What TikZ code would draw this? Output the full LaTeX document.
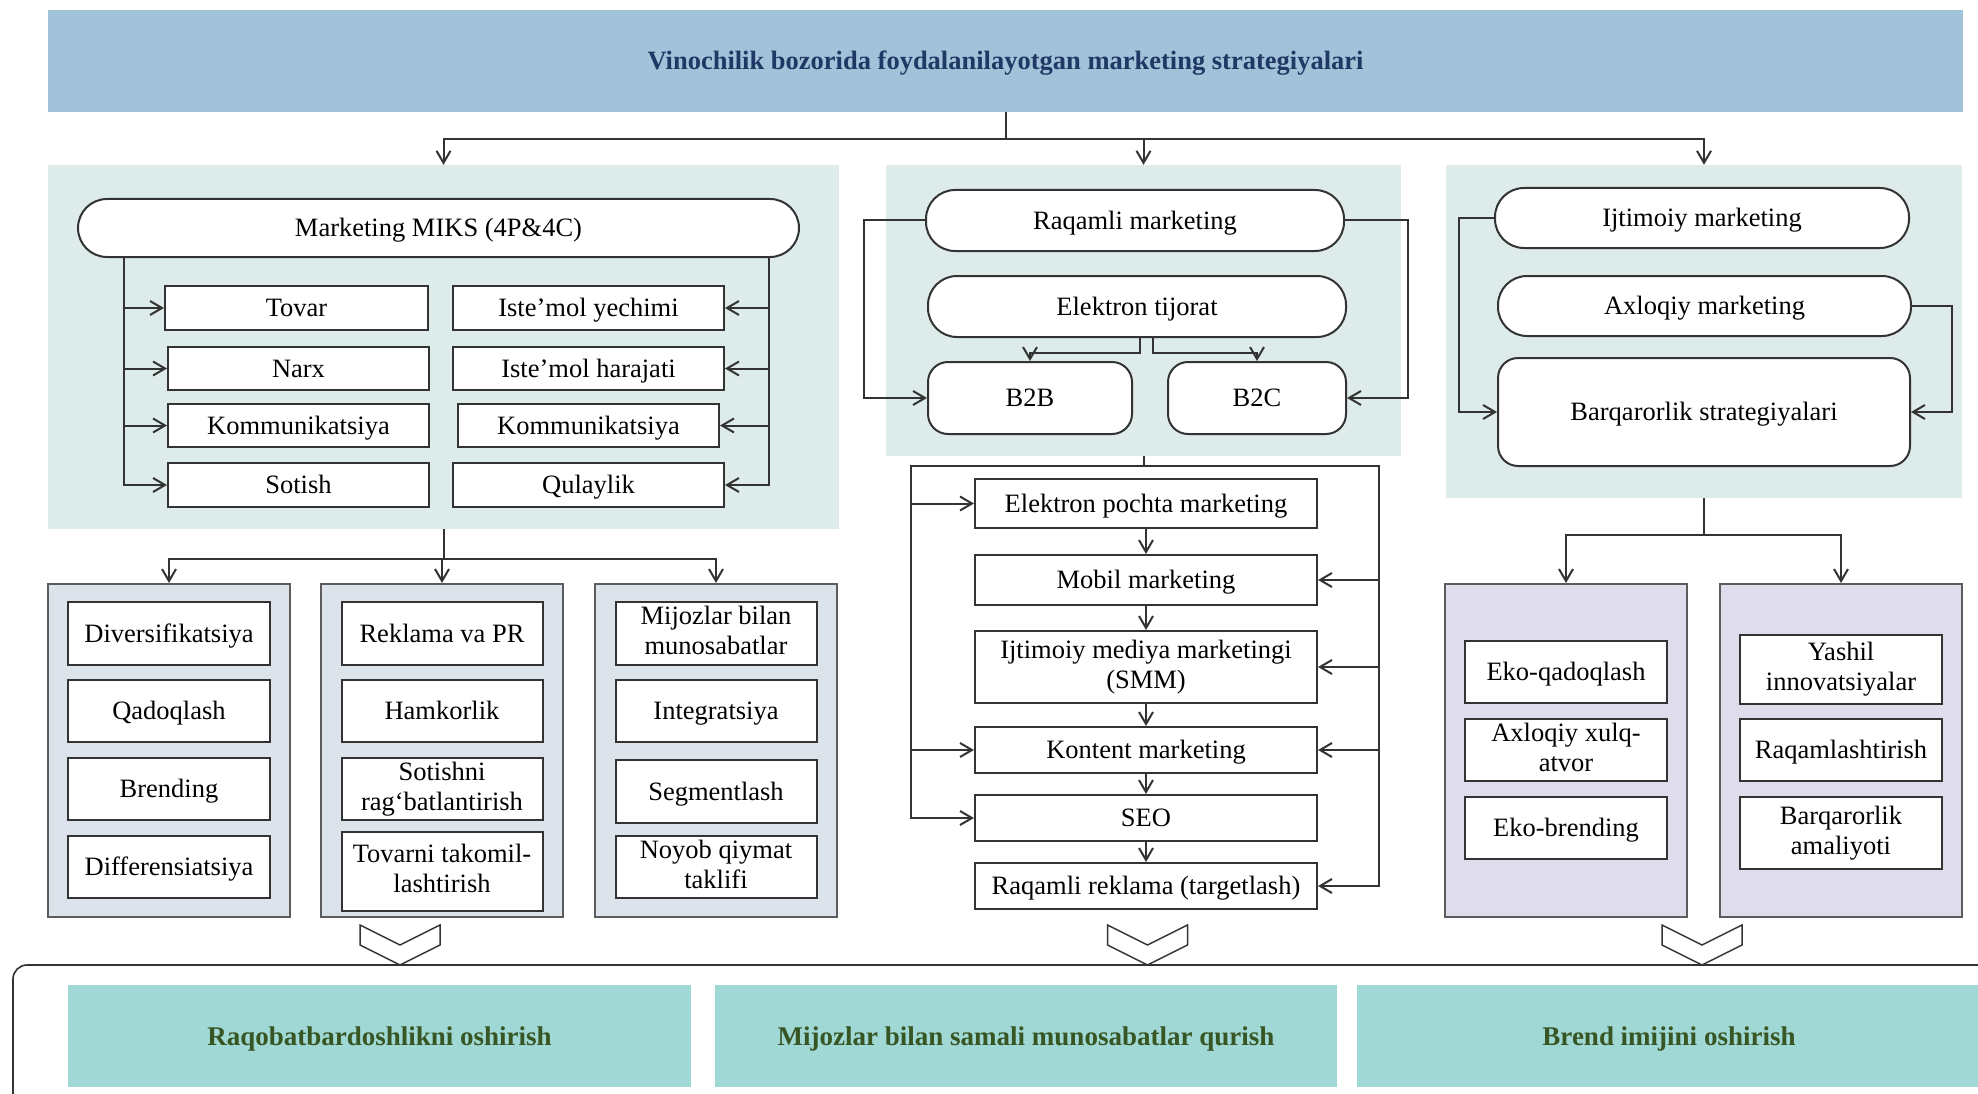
\documentclass[tikz,border=0pt]{standalone}
\usepackage{fontspec}
\setmainfont{Liberation Serif}
\usetikzlibrary{arrows.meta}

\definecolor{titlebg}{HTML}{A2C2DA}
\definecolor{titletext}{HTML}{1F3864}
\definecolor{panelbg}{HTML}{DDEBEA}
\definecolor{subbg}{HTML}{DDE3EA}
\definecolor{lilacbg}{HTML}{DFDDEC}
\definecolor{resultbg}{HTML}{9FD8D5}
\definecolor{resulttext}{HTML}{375623}
\definecolor{linegray}{HTML}{333333}

\newcommand{\wstrut}{\rule[-0.216em]{0pt}{1.107em}}

\tikzset{
    line/.style={draw=linegray, line width=2pt},
    arr/.style={line, -{Straight Barb[length=12pt,width=14pt]}},
    wh/.style 2 args={minimum width=#1, minimum height=#2},
    struts/.style={execute at begin node=\wstrut, execute at end node=\wstrut},
    box/.style={draw=linegray, line width=2pt, fill=white, align=center, inner sep=0pt,
        font=\fontsize{26.5}{30}\selectfont, struts},
    pill/.style={box, rounded corners=29pt},
    panel/.style={fill=panelbg, inner sep=0pt},
    subpanel/.style={draw=linegray!80, line width=2pt, fill=subbg, inner sep=0pt},
    lilac/.style={draw=linegray!80, line width=2pt, fill=lilacbg, inner sep=0pt},
    result/.style={fill=resultbg, inner sep=0pt, text=resulttext,
        font=\bfseries\fontsize{27}{30}\selectfont, struts}
}

\newcommand{\chevron}[1]{\draw[line, line width=1.5pt, fill=white] (#1-40,925) -- ++(0,20) -- ++(40,20) -- ++(40,-20) -- ++(0,-20) -- ++(-40,20) -- cycle;}

\begin{document}
\begin{tikzpicture}[x=1pt, y=-1pt]
    \useasboundingbox (0,0) rectangle (1978,1094);

    % Title
    \node[fill=titlebg, wh={1915}{102}, text=titletext, struts,
        font=\bfseries\fontsize{26.5}{30}\selectfont]
        (title) at (1005.5,61) {Vinochilik bozorida foydalanilayotgan marketing strategiyalari};

    % Three strategy panels
    \node[panel, wh={791}{364}] (pL) at (443.5,347) {};
    \node[panel, wh={515}{291}] (pM) at (1143.5,310.5) {};
    \node[panel, wh={516}{333}] (pR) at (1704,331.5) {};
    \foreach \p in {pL,pM,pR}
        \draw[arr] (title.south) -- ++(0,27) -| (\p.north);

    % Marketing mix (4P & 4C)
    \node[pill, wh={721}{58}] (miks) at (438.5,228) {Marketing MIKS (4P\&4C)};
    \node[box, wh={263}{44}] (tovar) at (296.5,308) {Tovar};
    \node[box, wh={261}{43}] (narx) at (298.5,368.5) {Narx};
    \node[box, wh={261}{43}] (komL) at (298.5,425.5) {Kommunikatsiya};
    \node[box, wh={261}{44}] (sotish) at (298.5,485) {Sotish};
    \node[box, wh={271}{44}] (yechim) at (588.5,308) {Iste’mol yechimi};
    \node[box, wh={271}{43}] (harajat) at (588.5,368.5) {Iste’mol harajati};
    \node[box, wh={261}{43}] (komR) at (588.5,425.5) {Kommunikatsiya};
    \node[box, wh={271}{44}] (qulay) at (588.5,485) {Qulaylik};
    \foreach \n in {tovar,narx,komL,sotish}
        \draw[arr] ([xshift=47pt]miks.south west) |- (\n);
    \foreach \n in {yechim,harajat,komR,qulay}
        \draw[arr] ([xshift=-31pt]miks.south east) |- (\n);

    % Sub-panels under the marketing mix
    \node[subpanel, wh={242}{333}] (sp1) at (169,750.5) {};
    \node[subpanel, wh={242}{333}] (sp2) at (442,750.5) {};
    \node[subpanel, wh={242}{333}] (sp3) at (716,750.5) {};
    \foreach \p in {sp1,sp2,sp3}
        \draw[arr] (pL.south) -- ++(0,30) -| (\p.north);

    \node[box, wh={202}{63}] (divers) at (169,633.5) {Diversifikatsiya};
    \node[box, wh={202}{62}] (qadoq) at (169,711) {Qadoqlash};
    \node[box, wh={202}{62}] (brend) at (169,789) {Brending};
    \node[box, wh={202}{62}] (differ) at (169,867) {Differensiatsiya};

    \node[box, wh={201}{63}] (reklama) at (442,633.5) {Reklama va PR};
    \node[box, wh={201}{62}] (hamkor) at (442,711) {Hamkorlik};
    \node[box, wh={201}{62}] (sotishni) at (442,789) {Sotishni\\rag‘batlantirish};
    \node[box, wh={201}{79}] (takomil) at (442,871.5) {Tovarni takomil-\\lashtirish};

    \node[box, wh={201}{63}] (mijoz) at (716,633.5) {Mijozlar bilan\\munosabatlar};
    \node[box, wh={201}{62}] (integr) at (716,711) {Integratsiya};
    \node[box, wh={201}{63}] (segment) at (716,791.5) {Segmentlash};
    \node[box, wh={201}{62}] (noyob) at (716,867) {Noyob qiymat\\taklifi};

    % Digital marketing
    \node[pill, wh={418}{61}] (raq) at (1135,220.5) {Raqamli marketing};
    \node[pill, wh={418}{61}] (etij) at (1137,306.5) {Elektron tijorat};
    \node[box, rounded corners=20pt, wh={204}{72}] (b2b) at (1030,398) {B2B};
    \node[box, rounded corners=20pt, wh={178}{72}] (b2c) at (1257,398) {B2C};
    \draw[arr] ([xshift=3pt]etij.south) -- ++(0,15) -| (b2b.north);
    \draw[arr] ([xshift=16pt]etij.south) -- ++(0,15) -| (b2c.north);
    \draw[arr] (raq.west) -- ++(-61,0) |- (b2b.west);
    \draw[arr] (raq.east) -- ++(63,0) |- (b2c.east);

    % Digital channels
    \coordinate (mhub) at ([yshift=-10pt]pM.south);
    \draw[line] (pM.south) -- (mhub);
    \node[box, wh={342}{49}] (epm) at (1146,503.5) {Elektron pochta marketing};
    \node[box, wh={342}{50}] (mob) at (1146,580) {Mobil marketing};
    \node[box, wh={342}{72}] (smm) at (1146,667) {Ijtimoiy mediya marketingi\\(SMM)};
    \node[box, wh={342}{46}] (kont) at (1146,750) {Kontent marketing};
    \node[box, wh={342}{46}] (seo) at (1146,818) {SEO};
    \node[box, wh={342}{46}] (rek) at (1146,886) {Raqamli reklama (targetlash)};
    \foreach \a/\b in {epm/mob,mob/smm,smm/kont,kont/seo,seo/rek}
        \draw[arr] (\a) -- (\b);
    \foreach \n in {epm,kont,seo}
        \draw[arr] (mhub) -- ([xshift=-233pt]mhub) |- (\n);
    \foreach \n in {mob,smm,kont,rek}
        \draw[arr] (mhub) -- ([xshift=235pt]mhub) |- (\n);

    % Social and ethical marketing
    \node[pill, wh={414}{60}] (ijt) at (1702,218) {Ijtimoiy marketing};
    \node[pill, wh={413}{60}] (axl) at (1704.5,306) {Axloqiy marketing};
    \node[box, rounded corners=20pt, wh={412}{108}] (barq) at (1704,412) {Barqarorlik strategiyalari};
    \draw[arr] (ijt.west) -- ++(-35,0) |- (barq.west);
    \draw[arr] (axl.east) -- ++(40,0) |- (barq.east);

    \node[lilac, wh={242}{333}] (rp1) at (1566,750.5) {};
    \node[lilac, wh={242}{333}] (rp2) at (1841,750.5) {};
    \foreach \p in {rp1,rp2}
        \draw[arr] (pR.south) -- ++(0,37) -| (\p.north);

    \node[box, wh={202}{62}] (ekoq) at (1566,672) {Eko-qadoqlash};
    \node[box, wh={202}{62}] (xulq) at (1566,750) {Axloqiy xulq-\\atvor};
    \node[box, wh={202}{62}] (ekob) at (1566,828) {Eko-brending};
    \node[box, wh={202}{69}] (yashil) at (1841,669.5) {Yashil\\innovatsiyalar};
    \node[box, wh={202}{62}] (raqam) at (1841,750) {Raqamlashtirish};
    \node[box, wh={202}{72}] (amal) at (1841,833) {Barqarorlik\\amaliyoti};

    % Results
    \draw[line, line width=1.6pt, rounded corners=14pt] (13,965) rectangle (2040,1140);
    \chevron{400}
    \chevron{1147.5}
    \chevron{1702}
    \node[result, wh={623}{102}] (g1) at (379.5,1036) {Raqobatbardoshlikni oshirish};
    \node[result, wh={622}{102}] (g2) at (1026,1036) {Mijozlar bilan samali munosabatlar qurish};
    \node[result, wh={624}{102}] (g3) at (1669,1036) {Brend imijini oshirish};
\end{tikzpicture}
\end{document}
